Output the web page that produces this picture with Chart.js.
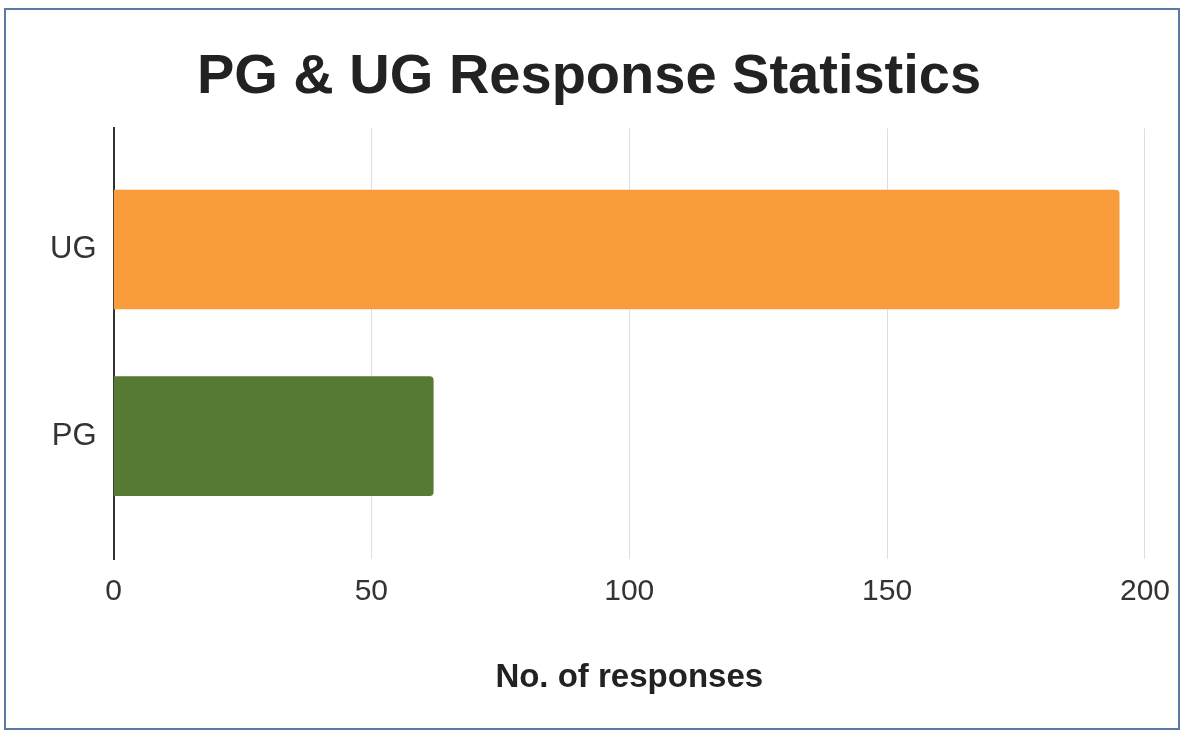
<!DOCTYPE html>
<html>
<head>
<meta charset="utf-8">
<script src="https://cdn.jsdelivr.net/npm/chart.js@4"></script>
<style>
  html, body { margin: 0; padding: 0; background: #fff; }
  #wrap { position: relative; width: 1184px; height: 730px; }
  #frame {
    position: absolute; left: 4px; top: 8px; width: 1172px; height: 718px;
    border: 2px solid #5b7aa6; pointer-events: none;
  }
</style>
</head>
<body>
<div id="wrap">
  <canvas id="chart" width="1184" height="730"></canvas>
  <div id="frame"></div>
</div>
<script>
const categories = ['UG', 'PG'];
const responses = [195, 62];
const barColors = ['#f99c3b', '#567a33'];
const xTicks = [0, 50, 100, 150, 200];

const FONT = 'Liberation Sans, Arial, sans-serif';

// categories sit on a linear index axis so the rows can be spaced like the original
const points = responses.map((v, i) => ({ x: v, y: i }));

const ctx = document.getElementById('chart').getContext('2d');
new Chart(ctx, {
  type: 'bar',
  data: {
    datasets: [{
      label: 'No. of responses',
      data: points,
      backgroundColor: barColors,
      borderRadius: { topRight: 4, bottomRight: 4 },
      borderSkipped: 'start',
      barThickness: 119
    }]
  },
  options: {
    indexAxis: 'y',
    responsive: false,
    animation: false,
    layout: { padding: { left: 33, right: 39, top: 12, bottom: 32 } },
    plugins: {
      legend: { display: false },
      tooltip: { enabled: false },
      title: {
        display: true,
        text: 'PG & UG Response Statistics',
        color: '#222',
        font: { family: FONT, size: 56, weight: 'bold' },
        padding: { top: 32, bottom: 17 }
      }
    },
    scales: {
      x: {
        type: 'linear',
        min: 0,
        max: 200,
        afterBuildTicks: axis => { axis.ticks = xTicks.map(v => ({ value: v })); },
        grid: { color: '#dcdde8', lineWidth: 1, drawTicks: false },
        border: { display: false },
        ticks: {
          color: '#333',
          font: { family: FONT, size: 30 },
          padding: 14
        },
        title: {
          display: true,
          text: 'No. of responses',
          color: '#222',
          font: { family: FONT, size: 33, weight: 'bold' },
          padding: { top: 35, bottom: 0 }
        }
      },
      y: {
        type: 'linear',
        reverse: true,
        offset: false,
        min: -0.65,
        max: 1.66,
        afterBuildTicks: axis => { axis.ticks = categories.map((c, i) => ({ value: i })); },
        grid: { display: false, drawTicks: false, offset: false },
        border: { color: '#333', width: 2 },
        ticks: {
          color: '#333',
          font: { family: FONT, size: 31 },
          padding: 17,
          callback: v => categories[v]
        }
      }
    }
  }
});
</script>
</body>
</html>
